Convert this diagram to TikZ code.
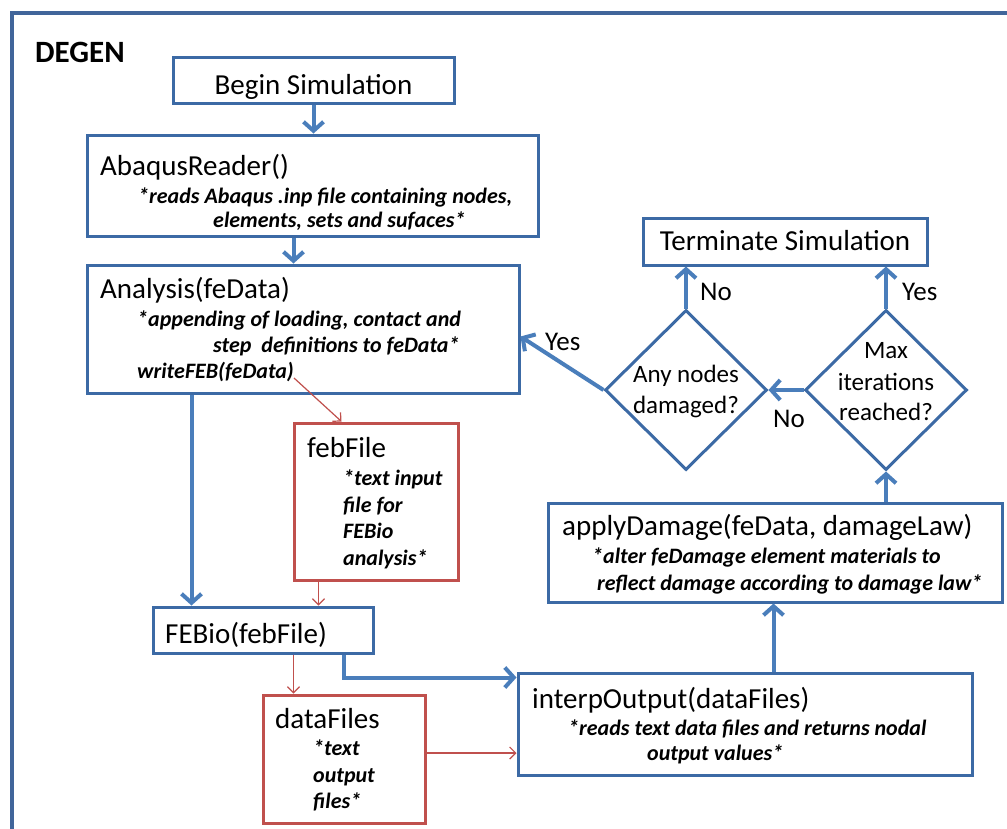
\documentclass[tikz,border=0pt]{standalone}
\usepackage{fontspec}
\setmainfont{Carlito}
\usetikzlibrary{arrows.meta,shapes.geometric,calc}
\definecolor{boxblue}{HTML}{3C6AA5}
\definecolor{arrblue}{HTML}{4A7EBB}
\definecolor{framecol}{HTML}{41659A}
\definecolor{boxred}{HTML}{C0504D}
\newcommand\regf{\fontsize{29}{34}\selectfont}
\newcommand\itbf{\bfseries\itshape\fontsize{22}{25}\selectfont}
\newcommand\labf{\fontsize{25}{30}\selectfont}
\newcommand\lblf{\fontsize{27}{30}\selectfont}
\tikzset{
  bbox/.style={draw=boxblue, line width=3pt, inner sep=0pt, fill=white},
  rbox/.style={draw=boxred, line width=3pt, inner sep=0pt, fill=white},
  dmd/.style={diamond, draw=boxblue, line width=3pt, inner sep=0pt, aspect=1},
  txt/.style={inner sep=0pt, anchor=base west, font=\regf},
  itx/.style={inner sep=0pt, anchor=base west, font=\itbf},
  ctx/.style={inner sep=0pt, anchor=base, font=\labf},
  lab/.style={inner sep=0pt, anchor=base west, font=\lblf},
  barrow/.style={draw=arrblue, line width=4pt, -{Straight Barb[length=9pt,width=20pt,line width=4pt]}},
  rarrow/.style={draw=boxred, line width=1.2pt, -{Straight Barb[length=6pt,width=12pt,line width=1.2pt]}},
}
\begin{document}
\begin{tikzpicture}[x=1pt,y=-1pt]
\useasboundingbox (0,0) rectangle (1007,828);
\fill[white] (0,0) rectangle (1007,828);
% outer frame
\draw[framecol, line width=3.5pt] (12,840) -- (12,13) -- (1020,13);
\node[inner sep=0pt, anchor=base west, font=\bfseries\fontsize{31}{34}\selectfont] (degen) at (35,62) {DEGEN};

% boxes
\node[bbox, minimum width=281pt, minimum height=46pt] (begin) at (313.5,80) {};
\node[bbox, minimum width=451pt, minimum height=101pt] (abaqus) at (312.5,185.5) {};
\node[bbox, minimum width=432pt, minimum height=128pt] (analysis) at (303,329) {};
\node[rbox, minimum width=164pt, minimum height=157pt] (febfile) at (376,501.5) {};
\node[bbox, minimum width=220pt, minimum height=46pt] (febio) at (263,630) {};
\node[rbox, minimum width=162pt, minimum height=128pt] (datafiles) at (344,759) {};
\node[bbox, minimum width=454pt, minimum height=102pt] (interp) at (745,724) {};
\node[bbox, minimum width=454pt, minimum height=99pt] (apply) at (775,552.5) {};
\node[bbox, minimum width=284pt, minimum height=47pt] (term) at (785,241.5) {};
\node[dmd, minimum width=162pt, minimum height=160pt] (any) at (686,390) {};
\node[dmd, minimum width=162pt, minimum height=160pt] (max) at (886,390) {};

% texts
\node[inner sep=0pt, anchor=base, font=\regf] (tbegin) at (313.5,94) {Begin Simulation};
\node[txt] (tab1) at (100,175) {AbaqusReader()};
\node[itx] (tab2) at (138,203) {*reads Abaqus .inp file containing nodes,};
\node[itx] (tab3) at (213,227) {elements, sets and sufaces*};
\node[txt] (tan1) at (100,298) {Analysis(feData)};
\node[itx] (tan2) at (137,326) {*appending of loading, contact and};
\node[itx] (tan3) at (213,352) {step~ definitions to feData*};
\node[itx] (wfeb) at (137,378) {writeFEB(feData)};
\node[txt] (tfeb1) at (307,457) {febFile};
\node[itx] (tfeb2) at (343,485) {*text input};
\node[itx] (tfeb3) at (343,512) {file for};
\node[itx] (tfeb4) at (343,538) {FEBio};
\node[itx] (tfeb5) at (343,565) {analysis*};
\node[txt] (tfebio) at (165,643) {FEBio(febFile)};
\node[txt] (tdf1) at (275,728) {dataFiles};
\node[itx] (tdf2) at (313,755) {*text};
\node[itx] (tdf3) at (313,782) {output};
\node[itx] (tdf4) at (313,808) {files*};
\node[txt] (tin1) at (532,708) {interpOutput(dataFiles)};
\node[itx] (tin2) at (568,735) {*reads text data files and returns nodal};
\node[itx] (tin3) at (647,760) {output values*};
\node[txt] (tap1) at (562,535) {applyDamage(feData, damageLaw)};
\node[itx] (tap2) at (592,563) {*alter feDamage element materials to};
\node[itx] (tap3) at (597,590) {reflect damage according to damage law*};
\node[inner sep=0pt, anchor=base, font=\regf] (tterm) at (785,250) {Terminate Simulation};
\node[ctx] (tany1) at (686,382) {Any nodes};
\node[ctx] (tany2) at (686,413) {damaged?};
\node[ctx] (tmax1) at (886,358) {Max};
\node[ctx] (tmax2) at (886,390) {iterations};
\node[ctx] (tmax3) at (886,420) {reached?};

% connectors
\draw[barrow] (begin.south) -- (begin.south |- abaqus.north);
\draw[barrow] ([xshift=208pt]abaqus.south west) -- ([xshift=208pt]analysis.north west);
\draw[barrow] ([xshift=106pt]analysis.south west) -- ([xshift=40pt]febio.north west);
\draw[rarrow] (wfeb.base east) -- ([xshift=49pt]febfile.north west);
\draw[rarrow] ([xshift=26pt]febfile.south west) -- ([xshift=167pt]febio.north west);
\draw[rarrow] ([xshift=142pt]febio.south west) -- ([xshift=32pt]datafiles.north west);
\draw[rarrow] ([yshift=6pt]datafiles.east) -- ([yshift=6pt]datafiles.east -| interp.west);
\draw[barrow] ([xshift=192pt]febio.south west) |- ([yshift=-6pt]interp.north west);
\draw[barrow] ([xshift=257pt]interp.north west) -- ([xshift=227pt]apply.south west);
\draw[barrow] (max.south |- apply.north) -- (max.south);
\draw[barrow] (max.west) -- (any.east);
\draw[barrow] (any.north) -- (any.north |- term.south);
\draw[barrow] (max.north) -- (max.north |- term.south);
\draw[barrow] (any.west) -- ([yshift=-73pt]analysis.north east);

% labels
\node[lab] (lno1) at (700,300) {No};
\node[lab] (lyes1) at (902,300) {Yes};
\node[lab] (lyes2) at (545,350) {Yes};
\node[lab] (lno2) at (773,427) {No};
\end{tikzpicture}
\end{document}
